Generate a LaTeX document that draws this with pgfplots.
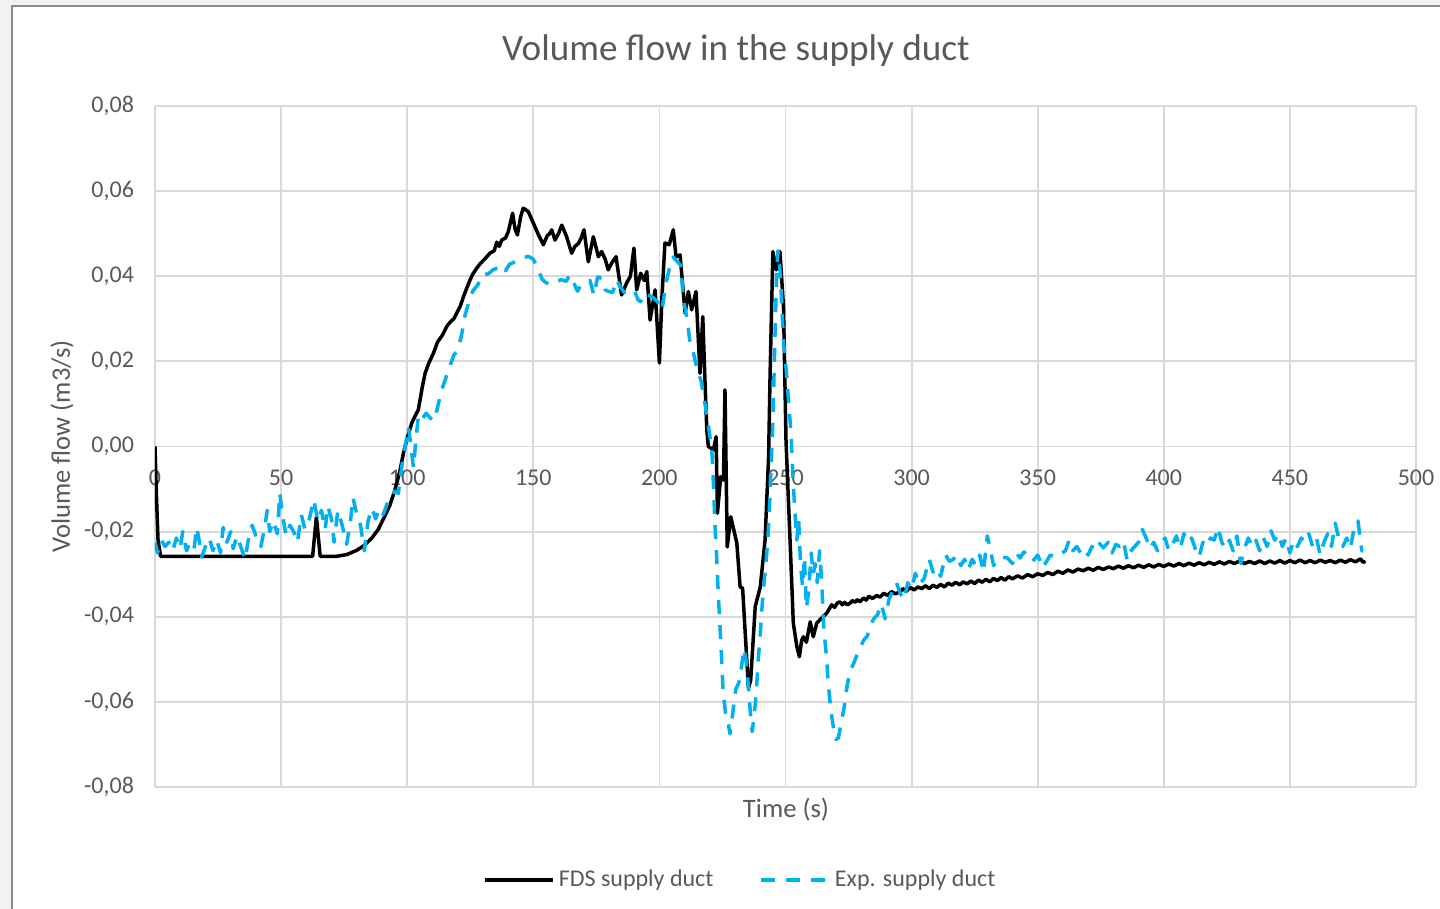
\documentclass[border=0pt]{standalone}
\usepackage{pgfplots}
\pgfplotsset{compat=1.18}
\usepackage{fontspec}
\setmainfont{Carlito}
\definecolor{txt}{HTML}{595959}
\definecolor{gridc}{HTML}{D9D9D9}
\definecolor{expblue}{HTML}{00B0F0}
\definecolor{bgc}{HTML}{F2F2F2}
\definecolor{framec}{HTML}{8A8A8A}
\begin{document}
\begin{tikzpicture}
\fill[bgc] (-77.5pt,-61pt) rectangle (642.5pt,393.5pt);
\filldraw[fill=white, draw=framec, line width=1pt] (-71.5pt,-80pt) rectangle (670pt,390.5pt);
\begin{axis}[
  scale only axis,
  width=630.5pt, height=340.5pt,
  xmin=0, xmax=500, ymin=-0.08, ymax=0.08,
  xtick={0,50,100,150,200,250,300,350,400,450,500},
  ytick={-0.08,-0.06,-0.04,-0.02,0,0.02,0.04,0.06,0.08},
  scaled y ticks=false,
  grid=major,
  major grid style={draw=gridc, line width=0.9pt},
  axis line style={draw=none},
  tick style={draw=none},
  /pgf/number format/assume math mode=true,
  xticklabel style={font=\fontsize{12}{14}\selectfont, text=txt, anchor=base, yshift=150.5pt},
  yticklabel style={font=\fontsize{12}{14}\selectfont, text=txt, xshift=-7pt,
    /pgf/number format/.cd, fixed, fixed zerofill, precision=2, use comma, assume math mode=true},
  legend columns=2,
  legend style={at={(0.465,-0.1366)}, anchor=center, draw=none, fill=none,
    font=\fontsize{12}{14}\selectfont, text=txt,
    /tikz/every even column/.append style={column sep=21pt}},
  legend cell align=left,
  legend image code/.code={\draw[#1] (0pt,0pt) -- (34pt,0pt);},
]
\addplot[black, line width=1.75pt, line join=round] coordinates {
(0,0.0) (0.6,-0.012) (1.2,-0.022) (2.2,-0.0258) (10,-0.0258) (20,-0.0258) (30,-0.0258)
(40,-0.0258) (50,-0.0258) (62.5,-0.0258) (64,-0.0165) (65.5,-0.0258) (72,-0.0258)
(76,-0.0254) (80,-0.0244) (83,-0.0232) (86,-0.0215) (88.5,-0.0195) (91,-0.0165)
(93,-0.014) (95,-0.0105) (97,-0.006) (98.5,-0.0016) (100,0.002) (101.8,0.0055)
(103,0.007) (104.4,0.0086) (106,0.014) (107.1,0.0172) (108.5,0.0195) (110.4,0.0219)
(112,0.0245) (114,0.0262) (115.7,0.0282) (117,0.0292) (118.5,0.030) (120,0.0318)
(121,0.0329) (122.5,0.0355) (124,0.0378) (124.9,0.0391) (126,0.0405) (127.6,0.0419)
(129,0.043) (131,0.0442) (132.8,0.0454) (134.5,0.046) (135.5,0.048) (136.5,0.047)
(137.5,0.0485) (139,0.049) (140.1,0.0505) (141.8,0.0548) (142.8,0.051) (143.7,0.0497)
(145,0.054) (146,0.056) (148,0.0552) (150,0.0525) (152,0.0498) (154,0.0474)
(155.5,0.0495) (156.6,0.0501) (157.3,0.0509) (158.6,0.0485) (160,0.050) (161.3,0.052)
(163.2,0.0493) (165.2,0.0454) (166.5,0.047) (167.9,0.0477) (169,0.049) (170.1,0.0509)
(171.8,0.0434) (173.8,0.0493) (175.8,0.0446) (177.1,0.0458) (178.5,0.044) (179.7,0.0415)
(181,0.043) (182.8,0.0446) (185,0.0356) (187,0.0384) (188.5,0.040) (189.9,0.0466)
(191,0.0368) (192.6,0.0407) (194,0.039) (195,0.0411) (196.3,0.0297) (198.3,0.0368)
(200,0.0196) (201,0.035) (202.2,0.0478) (203.9,0.0474) (205.5,0.0509) (206.6,0.0446)
(208.2,0.045) (210.2,0.0313) (211.5,0.0364) (212.8,0.0321) (214.5,0.0364) (216.1,0.0172)
(217.2,0.0305) (218.1,0.0149) (218.8,0.0039) (219.4,0.0) (221.4,-0.0008) (222.5,0.0023)
(223,-0.0157) (224.3,-0.0071) (225.4,-0.0079) (226,0.0133) (226.9,-0.0236) (228.3,-0.0165)
(230.7,-0.0227) (232,-0.033) (233,-0.0333) (235.3,-0.0568) (236.2,-0.0549) (238,-0.0376)
(240,-0.033) (241.9,-0.022) (243.3,-0.0024) (243.9,0.0172) (245,0.0458) (246.3,0.0415)
(247.8,0.0458) (249.2,0.0329) (250.2,0.0015) (251.8,-0.022) (253.1,-0.0415) (254.5,-0.047)
(255.5,-0.0494) (256.4,-0.0455) (257.1,-0.0447) (258.3,-0.046) (259.8,-0.0412) (261,-0.0447)
(262.4,-0.0415) (264,-0.0405) (266.3,-0.0392) (267.5,-0.0380) (268.3,-0.0372) (269.5,-0.0378)
(270.5,-0.0368) (271.6,-0.0365) (272.5,-0.0372) (273.5,-0.0366) (274.5,-0.0372) (275.6,-0.0368)
(276.5,-0.0362) (277.5,-0.0366) (278.5,-0.0360) (279.5,-0.0365) (281,-0.0356) (282,-0.0361)
(283,-0.0352) (284.5,-0.0357) (286.2,-0.0350) (287.5,-0.0354) (289,-0.0345) (290.5,-0.0350)
(292,-0.0341) (293.5,-0.0346) (295.4,-0.0342) (296.5,-0.0334) (298,-0.0340) (299.5,-0.0331)
(301,-0.0337) (302.5,-0.0330) (304,-0.0334) (305.5,-0.0327) (307,-0.0334) (308.5,-0.0326)
(310,-0.0331) (311.5,-0.0324) (313,-0.0330) (314.5,-0.0321) (316,-0.0326) (317.5,-0.0319)
(319,-0.0325) (320.5,-0.0318) (322,-0.0323) (323.5,-0.0316) (325,-0.0322) (326.5,-0.0314)
(328,-0.0319) (329.5,-0.0312) (331,-0.0318) (332.5,-0.0310) (334,-0.0315) (335.5,-0.0308)
(337,-0.0314) (338.5,-0.0306) (340,-0.0311) (342,-0.0304) (344,-0.0309) (346,-0.0301)
(348,-0.0306) (350,-0.0299) (352,-0.0303) (354,-0.0296) (356,-0.0301) (358,-0.0293)
(360,-0.0298) (362,-0.0290) (364,-0.0295) (366,-0.0288) (368,-0.0292) (370,-0.0286)
(372,-0.0291) (374,-0.0284) (376,-0.0289) (378,-0.0283) (380,-0.0287) (382,-0.0281)
(384,-0.0286) (386,-0.0280) (388,-0.0285) (390,-0.0279) (392,-0.0284) (394,-0.0278)
(396,-0.0283) (398,-0.0277) (400,-0.0282) (402,-0.0276) (404,-0.0281) (406,-0.0275)
(408,-0.0280) (410,-0.0274) (412,-0.0279) (414,-0.0273) (416,-0.0278) (418,-0.0272)
(420,-0.0277) (422,-0.0271) (424,-0.0276) (426,-0.0270) (428,-0.0275) (430,-0.0269)
(432,-0.0275) (434,-0.0270) (436,-0.0275) (438,-0.0269) (440,-0.0275) (442,-0.0269)
(444,-0.0274) (446,-0.0268) (448,-0.0274) (450,-0.0268) (452,-0.0273) (454,-0.0267)
(456,-0.0273) (458,-0.0268) (460,-0.0273) (462,-0.0267) (464,-0.0272) (466,-0.0268)
(468,-0.0273) (470,-0.0267) (472,-0.0272) (474,-0.0266) (476,-0.0271) (478,-0.0264)
(479,-0.0272) (480,-0.0270)
};
\addlegendentry{FDS supply duct}
\addplot[expblue, line width=1.75pt, dash pattern=on 7pt off 5.5pt, line join=round] coordinates {
(0,-0.0225) (1,-0.025) (2.5,-0.022) (4,-0.0235) (5.5,-0.0225) (7,-0.0245) (8.5,-0.0215)
(10,-0.024) (11,-0.020) (12.5,-0.0245) (14,-0.0225) (15.5,-0.024) (16.5,-0.019) (17.5,-0.022)
(18.5,-0.026) (20,-0.0235) (21.5,-0.0215) (23,-0.0245) (24.5,-0.022) (26,-0.025) (27,-0.019)
(28.5,-0.0225) (30,-0.020) (31,-0.024) (32.5,-0.021) (34,-0.0235) (35.7,-0.0265) (37,-0.022)
(38.5,-0.0185) (40,-0.021) (42,-0.0235) (43.5,-0.019) (44.5,-0.015) (45.5,-0.020) (47,-0.0175)
(48.5,-0.0205) (49.5,-0.011) (50.5,-0.016) (52,-0.021) (53.5,-0.0185) (55,-0.020) (56.5,-0.0225)
(58,-0.016) (59.5,-0.0195) (61,-0.0175) (63,-0.0125) (64.5,-0.0175) (66,-0.015) (67.5,-0.0195)
(68.5,-0.014) (70,-0.017) (71,-0.0225) (72.5,-0.015) (74,-0.018) (76,-0.023) (77.5,-0.0175)
(78.5,-0.012) (80,-0.016) (81.5,-0.0185) (83,-0.0245) (84.5,-0.0175) (86,-0.0145) (87.5,-0.017)
(89,-0.0145) (90.5,-0.016) (92,-0.0135) (93.5,-0.0125) (95,-0.0105) (96.5,-0.011) (98,-0.004)
(99.5,0.001) (100.5,0.0045) (101.5,0.0) (102.5,-0.005) (103.5,0.002) (104.5,0.0075) (106,0.0065)
(107.5,0.0078) (109,0.0068) (110.5,0.006) (112,0.009) (113.5,0.013) (115,0.0155) (117,0.019)
(118.5,0.0215) (120,0.0225) (121.5,0.026) (123,0.031) (124.5,0.034) (126,0.0365) (128,0.038)
(130,0.0405) (132,0.0405) (134,0.0415) (136,0.042) (137.5,0.0425) (139,0.0413) (140.5,0.0428)
(142,0.0432) (144,0.0437) (146,0.0443) (148,0.0447) (150,0.044) (152,0.0415) (153.5,0.0393)
(155,0.0385) (157,0.038) (159,0.0385) (161,0.0392) (163,0.0388) (164.5,0.0403) (166,0.0385)
(167.5,0.0365) (169,0.038) (170.5,0.0385) (172.5,0.039) (174,0.0355) (175.5,0.0398) (177,0.0395)
(178.5,0.0368) (180,0.0364) (181.5,0.0362) (183,0.0392) (184.5,0.0375) (186,0.0362) (188,0.0365)
(190,0.0368) (191.5,0.0345) (192.5,0.034) (194,0.036) (196,0.0355) (197.5,0.035) (199.5,0.0338)
(201,0.032) (202.5,0.038) (204,0.042) (205.5,0.0445) (207,0.0435) (208.5,0.0425) (209.5,0.0345)
(211,0.03) (212,0.025) (213.5,0.022) (215,0.018) (216.5,0.0155) (217.5,0.012) (218.5,0.0085)
(219.5,0.0045) (220.5,0.0005) (221,-0.003) (221.5,-0.01) (222,-0.018) (222.7,-0.026)
(223.3,-0.034) (224,-0.042) (224.6,-0.049) (225.3,-0.058) (226.2,-0.0625) (227,-0.064)
(228,-0.0675) (229,-0.063) (230.3,-0.057) (231.5,-0.0555) (232.5,-0.052) (233.5,-0.0475)
(234.3,-0.05) (235.2,-0.0555) (236,-0.062) (236.8,-0.067) (237.6,-0.063) (238.4,-0.058)
(239.2,-0.05) (240,-0.044) (241,-0.035) (242,-0.029) (243,-0.022) (243.8,-0.012) (244.4,-0.003)
(245,0.006) (245.5,0.018) (246,0.03) (246.5,0.041) (247,0.046) (247.5,0.0435) (248,0.04)
(248.6,0.032) (249.3,0.024) (250.3,0.018) (251.3,0.01) (252.2,0.003) (253,-0.008) (253.8,-0.016)
(254.5,-0.022) (255.2,-0.017) (256,-0.028) (256.8,-0.033) (257.5,-0.026) (258.3,-0.038)
(259.2,-0.034) (260.2,-0.025) (261,-0.03) (261.8,-0.0275) (262.6,-0.032) (263.5,-0.0245)
(264.3,-0.031) (265.2,-0.043) (266.2,-0.049) (267,-0.056) (268,-0.062) (269,-0.066) (270,-0.0688)
(271,-0.0685) (272,-0.065) (273.2,-0.0615) (274.5,-0.056) (275.8,-0.0525) (277,-0.051)
(278,-0.0495) (279.5,-0.0475) (281,-0.0455) (282.5,-0.0445) (283.5,-0.042) (285,-0.0405)
(286.5,-0.0395) (288,-0.037) (289.5,-0.0405) (291,-0.036) (292.8,-0.0335) (294,-0.032)
(295.5,-0.0345) (297,-0.036) (298.5,-0.032) (300,-0.0335) (301.5,-0.0298) (303,-0.0325)
(305,-0.031) (307,-0.0265) (308.5,-0.0295) (310,-0.0285) (311.5,-0.0305) (313.5,-0.0255)
(315,-0.027) (316.5,-0.0265) (318,-0.0255) (319.5,-0.028) (321,-0.0265) (322.5,-0.029)
(324,-0.0265) (325.5,-0.028) (327,-0.0255) (328.5,-0.0295) (330,-0.021) (331,-0.0235)
(332.5,-0.028) (334,-0.0265) (336,-0.026) (338,-0.0262) (340,-0.0275) (341.5,-0.025)
(343,-0.0262) (344.5,-0.0248) (346,-0.0255) (348,-0.027) (350,-0.0255) (352,-0.0285)
(353.5,-0.027) (355,-0.0255) (357,-0.026) (359,-0.0252) (361,-0.0245) (362.5,-0.022)
(364,-0.0245) (365.5,-0.0235) (367,-0.025) (368.5,-0.024) (370,-0.0255) (371.5,-0.0235)
(373,-0.0245) (374.5,-0.0228) (376,-0.0238) (378,-0.0225) (379.5,-0.025) (381,-0.023)
(382.5,-0.0235) (384,-0.0222) (385.5,-0.0268) (387,-0.0245) (388.5,-0.0235) (390,-0.0225)
(391.5,-0.0195) (393,-0.0215) (394.5,-0.024) (396,-0.0225) (397.5,-0.0245) (399,-0.0232)
(400.5,-0.0215) (402,-0.0245) (403.5,-0.023) (405,-0.021) (406.5,-0.024) (408,-0.0205)
(409.5,-0.0225) (411,-0.0215) (412.5,-0.024) (414,-0.026) (415.5,-0.0225) (417,-0.0235)
(418.5,-0.0215) (420,-0.022) (421.5,-0.019) (423,-0.0225) (424.5,-0.024) (426,-0.022)
(427.5,-0.0245) (429,-0.021) (430.5,-0.0275) (432,-0.024) (433.5,-0.0215) (435,-0.0235)
(436.5,-0.022) (438,-0.0245) (439.5,-0.0215) (441,-0.0235) (442.5,-0.0198) (444,-0.022)
(445.5,-0.0205) (447,-0.0235) (448.5,-0.0215) (450,-0.025) (451.5,-0.022) (453,-0.0235)
(454.5,-0.0215) (456,-0.0225) (457.5,-0.0205) (459,-0.0235) (460.5,-0.0215) (462,-0.0255)
(463.5,-0.0225) (465,-0.0205) (466.5,-0.0235) (468,-0.018) (469.5,-0.022) (471,-0.0235)
(472.5,-0.0215) (474,-0.024) (475.5,-0.019) (477,-0.0175) (478.5,-0.0245) (479,-0.0245)
};
\addlegendentry{Exp. supply duct}
\end{axis}
\node[anchor=base, text=txt, font=\fontsize{18.6}{22}\selectfont] at (290.5pt,363pt) {Volume flow in the supply duct};
\node[anchor=base, rotate=90, text=txt, font=\fontsize{13.3}{16}\selectfont] at (-42.5pt,170.25pt) {Volume flow (m3/s)};
\node[anchor=base, text=txt, font=\fontsize{13.3}{16}\selectfont] at (315.5pt,-15.5pt) {Time (s)};
\pgfresetboundingbox
\useasboundingbox (-77.5pt,-61pt) rectangle (642.5pt,393.5pt);
\end{tikzpicture}
\end{document}
